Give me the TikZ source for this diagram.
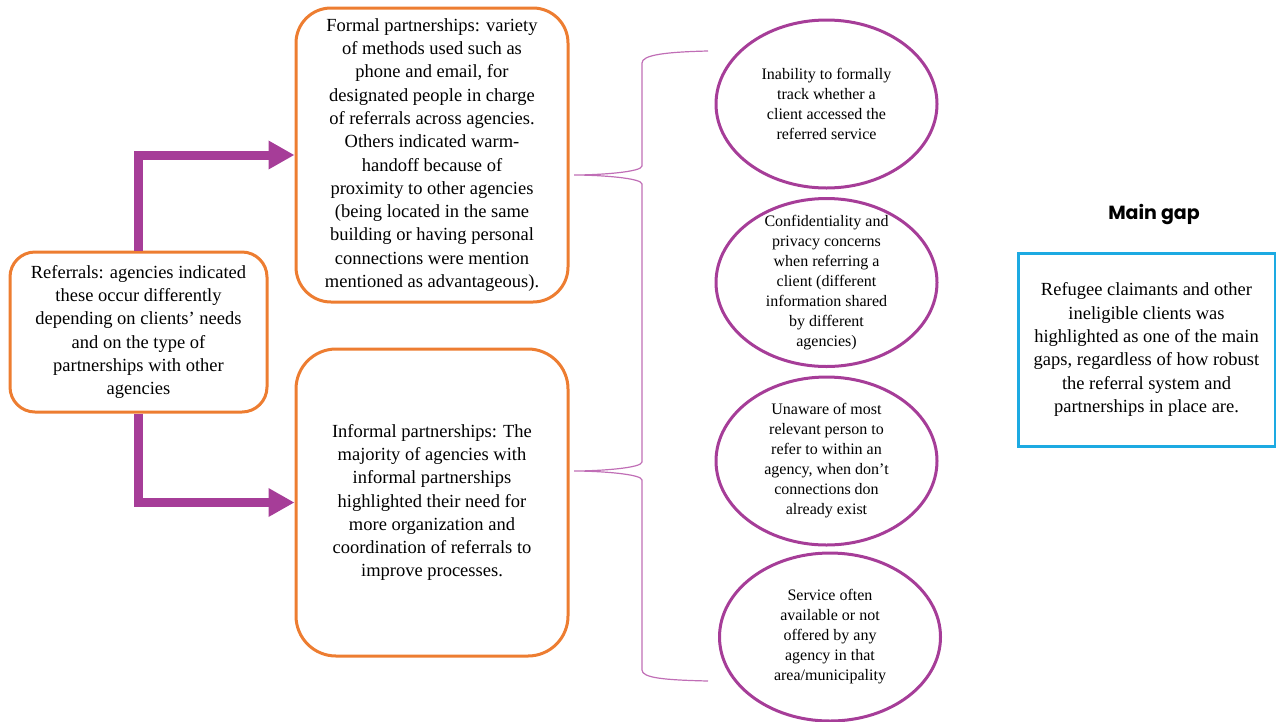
\documentclass[tikz,border=0pt]{standalone}
\usepackage{fontspec}
\setmainfont{Liberation Serif}
\newfontfamily\titlefont{Poppins}
\usetikzlibrary{arrows.meta,shapes.geometric}
\definecolor{boxorange}{RGB}{237,125,49}
\definecolor{arrpurple}{RGB}{166,61,152}
\definecolor{ellpurple}{RGB}{166,61,152}
\definecolor{bracepurple}{RGB}{192,110,182}
\definecolor{gapblue}{RGB}{29,170,226}
\begin{document}
\begin{tikzpicture}[x=1pt,y=-1pt,
  orangebox/.style={draw=boxorange,line width=3pt,fill=white,inner sep=0pt,align=center,
    font=\fontsize{18.5}{23.3}\selectfont},
  ellsty/.style={ellipse,draw=ellpurple,line width=3pt,inner sep=0pt,minimum width=221pt,minimum height=168pt},
  elltext/.style={align=center,inner sep=0pt,font=\fontsize{16}{20}\selectfont},
  fatarrow/.style={draw=arrpurple,line width=9pt,-{Triangle[length=26pt,width=27pt]}},
  bracesty/.style={draw=bracepurple,line width=1.2pt},
  bluebox/.style={draw=gapblue,line width=3pt,inner sep=0pt,align=center,
    minimum width=257pt,minimum height=193pt,font=\fontsize{18.5}{23.3}\selectfont}
]
\useasboundingbox (0,0) rectangle (1276,721);

\node[orangebox,rounded corners=25pt,minimum width=257pt,minimum height=160pt] (ref) at (138.5,332)
  {Referrals: agencies indicated\\these occur differently\\depending on clients' needs\\and on the type of\\partnerships with other\\agencies};

\node[orangebox,rounded corners=35pt,minimum width=272pt,minimum height=294pt] (formal) at (432,155)
  {Formal partnerships: variety\\of methods used such as\\phone and email, for\\designated people in charge\\of referrals across agencies.\\Others indicated warm-\\handoff because of\\proximity to other agencies\\(being located in the same\\building or having personal\\connections were mention\\mentioned as advantageous).};

\node[orangebox,rounded corners=40pt,minimum width=272pt,minimum height=307pt] (informal) at (432,502.5)
  {Informal partnerships: The\\majority of agencies with\\informal partnerships\\highlighted their need for\\more organization and\\coordination of referrals to\\improve processes.};

\draw[fatarrow] (ref.north) |- (formal.west);
\draw[fatarrow] (ref.south) |- (informal.west);

% brace
\coordinate (btop) at (708,51);
\coordinate (tip1) at (574,175);
\coordinate (tip2) at (574,471);
\coordinate (bbot) at (708,681);
\draw[bracesty] (btop) .. controls (665,52) and (642,55) .. (642,63)
  -- (642,166) .. controls (642,172) and (600,175) .. (tip1)
  .. controls (600,175) and (642,178) .. (642,184)
  -- (642,462) .. controls (642,468) and (600,471) .. (tip2)
  .. controls (600,471) and (642,474) .. (642,480)
  -- (642,670) .. controls (642,678) and (665,680) .. (bbot);

% ellipses
\node[ellsty] (e1) at (826.5,104) {};
\node[elltext] (t1) at (e1.center) {Inability to formally\\track whether a\\client accessed the\\referred service};
\node[ellsty] (e2) at (826.5,282.5) {};
\node[elltext] (t2) at (e2.center) {Confidentiality and\\privacy concerns\\when referring a\\client (different\\information shared\\by different\\agencies)};
\node[ellsty] (e3) at (826.5,461) {};
\node[elltext] (t3) at (e3.center) {Unaware of most\\relevant person to\\refer to within an\\agency, when don't\\connections don\\already exist};
\node[ellsty] (e4) at (830,637) {};
\node[elltext] (t4) at (e4.center) {Service often\\available or not\\offered by any\\agency in that\\area/municipality};

% main gap
\node[font=\titlefont\bfseries\fontsize{19}{23}\selectfont,inner sep=0pt] (gaptitle) at (1154,214) {Main gap};
\node[bluebox] (gap) at (1146.5,349.5)
  {Refugee claimants and other\\ineligible clients was\\highlighted as one of the main\\gaps, regardless of how robust\\the referral system and\\partnerships in place are.};
\end{tikzpicture}
\end{document}
